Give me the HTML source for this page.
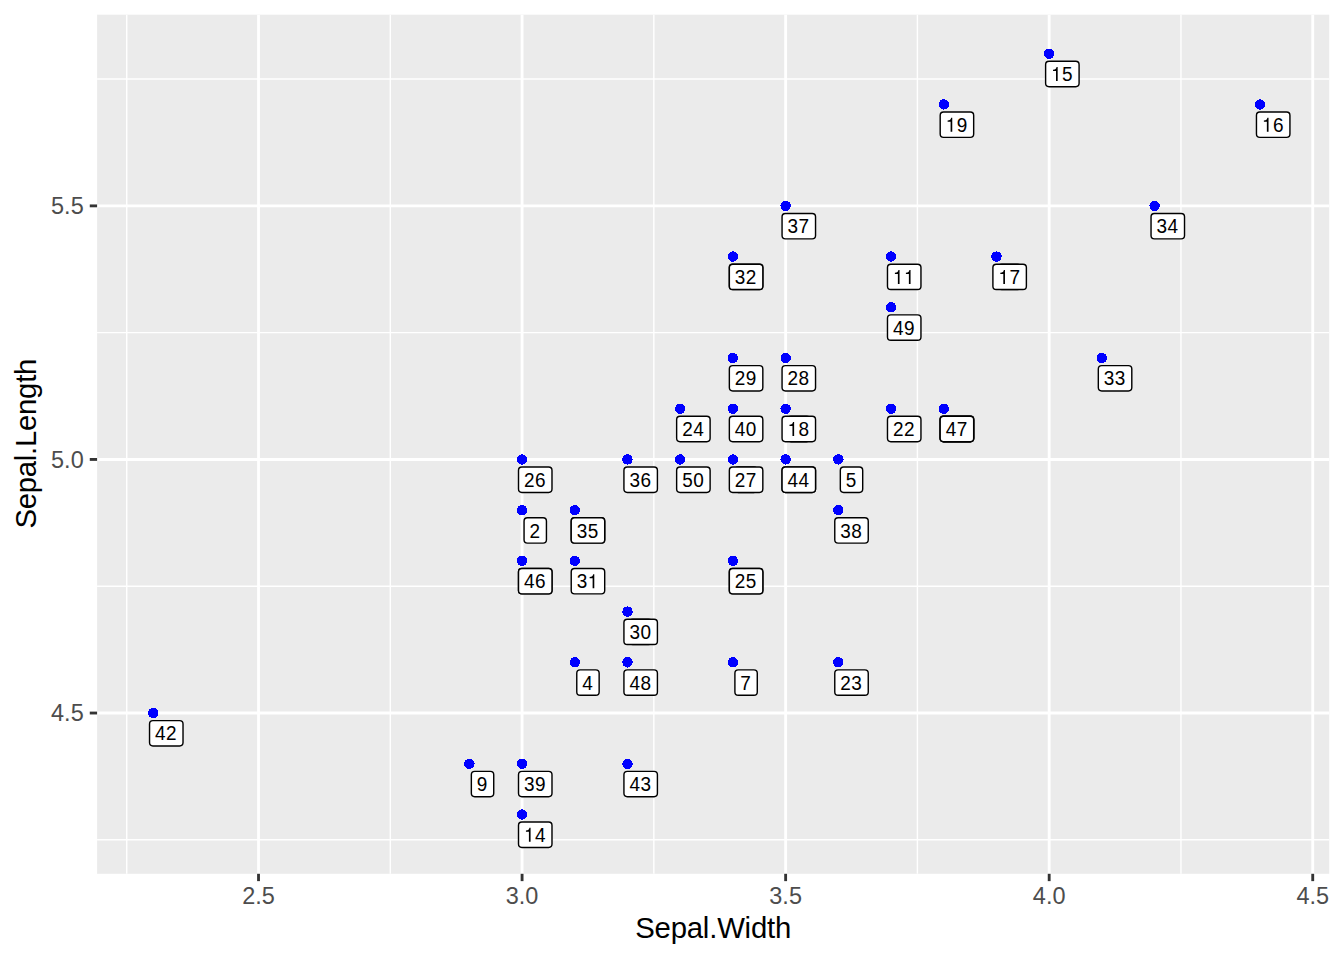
<!DOCTYPE html>
<html><head><meta charset="utf-8"><title>plot</title>
<style>html,body{margin:0;padding:0;background:#fff;overflow:hidden}svg{display:block}text{font-family:"Liberation Sans",sans-serif}</style></head><body>
<svg width="1344" height="960" viewBox="0 0 1344 960">
<rect x="0" y="0" width="1344" height="960" fill="#ffffff"/>
<rect x="97.10" y="14.67" width="1232.10" height="859.13" fill="#EBEBEB"/>
<g stroke="#ffffff" stroke-width="1.42" fill="none">
<line x1="97.10" x2="1329.20" y1="839.82" y2="839.82"/>
<line x1="97.10" x2="1329.20" y1="586.24" y2="586.24"/>
<line x1="97.10" x2="1329.20" y1="332.66" y2="332.66"/>
<line x1="97.10" x2="1329.20" y1="79.08" y2="79.08"/>
<line y1="14.67" y2="873.80" x1="126.75" x2="126.75"/>
<line y1="14.67" y2="873.80" x1="390.30" x2="390.30"/>
<line y1="14.67" y2="873.80" x1="653.85" x2="653.85"/>
<line y1="14.67" y2="873.80" x1="917.40" x2="917.40"/>
<line y1="14.67" y2="873.80" x1="1180.95" x2="1180.95"/>
</g>
<g stroke="#ffffff" stroke-width="2.85" fill="none">
<line x1="97.10" x2="1329.20" y1="713.03" y2="713.03"/>
<line x1="97.10" x2="1329.20" y1="459.45" y2="459.45"/>
<line x1="97.10" x2="1329.20" y1="205.87" y2="205.87"/>
<line y1="14.67" y2="873.80" x1="258.52" x2="258.52"/>
<line y1="14.67" y2="873.80" x1="522.08" x2="522.08"/>
<line y1="14.67" y2="873.80" x1="785.63" x2="785.63"/>
<line y1="14.67" y2="873.80" x1="1049.18" x2="1049.18"/>
<line y1="14.67" y2="873.80" x1="1312.73" x2="1312.73"/>
</g>
<g fill="#0000FF" shape-rendering="crispEdges">
<circle cx="785.63" cy="408.73" r="5.2"/>
<circle cx="522.08" cy="510.17" r="5.2"/>
<circle cx="627.50" cy="611.60" r="5.2"/>
<circle cx="574.79" cy="662.31" r="5.2"/>
<circle cx="838.34" cy="459.45" r="5.2"/>
<circle cx="996.47" cy="256.59" r="5.2"/>
<circle cx="732.92" cy="662.31" r="5.2"/>
<circle cx="732.92" cy="459.45" r="5.2"/>
<circle cx="469.37" cy="763.75" r="5.2"/>
<circle cx="574.79" cy="510.17" r="5.2"/>
<circle cx="891.05" cy="256.59" r="5.2"/>
<circle cx="732.92" cy="560.88" r="5.2"/>
<circle cx="522.08" cy="560.88" r="5.2"/>
<circle cx="522.08" cy="814.46" r="5.2"/>
<circle cx="1049.18" cy="53.72" r="5.2"/>
<circle cx="1260.02" cy="104.44" r="5.2"/>
<circle cx="996.47" cy="256.59" r="5.2"/>
<circle cx="785.63" cy="408.73" r="5.2"/>
<circle cx="943.76" cy="104.44" r="5.2"/>
<circle cx="943.76" cy="408.73" r="5.2"/>
<circle cx="732.92" cy="256.59" r="5.2"/>
<circle cx="891.05" cy="408.73" r="5.2"/>
<circle cx="838.34" cy="662.31" r="5.2"/>
<circle cx="680.21" cy="408.73" r="5.2"/>
<circle cx="732.92" cy="560.88" r="5.2"/>
<circle cx="522.08" cy="459.45" r="5.2"/>
<circle cx="732.92" cy="459.45" r="5.2"/>
<circle cx="785.63" cy="358.02" r="5.2"/>
<circle cx="732.92" cy="358.02" r="5.2"/>
<circle cx="627.50" cy="611.60" r="5.2"/>
<circle cx="574.79" cy="560.88" r="5.2"/>
<circle cx="732.92" cy="256.59" r="5.2"/>
<circle cx="1101.89" cy="358.02" r="5.2"/>
<circle cx="1154.60" cy="205.87" r="5.2"/>
<circle cx="574.79" cy="510.17" r="5.2"/>
<circle cx="627.50" cy="459.45" r="5.2"/>
<circle cx="785.63" cy="205.87" r="5.2"/>
<circle cx="838.34" cy="510.17" r="5.2"/>
<circle cx="522.08" cy="763.75" r="5.2"/>
<circle cx="732.92" cy="408.73" r="5.2"/>
<circle cx="785.63" cy="459.45" r="5.2"/>
<circle cx="153.10" cy="713.03" r="5.2"/>
<circle cx="627.50" cy="763.75" r="5.2"/>
<circle cx="785.63" cy="459.45" r="5.2"/>
<circle cx="943.76" cy="408.73" r="5.2"/>
<circle cx="522.08" cy="560.88" r="5.2"/>
<circle cx="943.76" cy="408.73" r="5.2"/>
<circle cx="627.50" cy="662.31" r="5.2"/>
<circle cx="891.05" cy="307.30" r="5.2"/>
<circle cx="680.21" cy="459.45" r="5.2"/>
</g>
<g font-size="18.97" fill="#000000">
<rect x="787.61" y="416.33" width="22.38" height="25.38" rx="3.4" ry="3.4" fill="#ffffff" stroke="#000000" stroke-width="1.42"/>
<path transform="translate(793.05,436.12) scale(0.01897,-0.01980)" d="M259 505L259 0L347 0L347 709L289 709C262 606 232 586 102 568L102 505Z"/>
<rect x="524.06" y="517.76" width="22.38" height="25.38" rx="3.4" ry="3.4" fill="#ffffff" stroke="#000000" stroke-width="1.42"/>
<text transform="translate(529.50,537.55) scale(1,1.044)">2</text>
<rect x="629.48" y="619.19" width="22.38" height="25.38" rx="3.4" ry="3.4" fill="#ffffff" stroke="#000000" stroke-width="1.42"/>
<text transform="translate(634.92,638.98) scale(1,1.044)">3</text>
<rect x="576.77" y="669.91" width="22.38" height="25.38" rx="3.4" ry="3.4" fill="#ffffff" stroke="#000000" stroke-width="1.42"/>
<text transform="translate(582.21,689.70) scale(1,1.044)">4</text>
<rect x="840.32" y="467.05" width="22.38" height="25.38" rx="3.4" ry="3.4" fill="#ffffff" stroke="#000000" stroke-width="1.42"/>
<text transform="translate(845.76,486.84) scale(1,1.044)">5</text>
<rect x="998.45" y="264.18" width="22.38" height="25.38" rx="3.4" ry="3.4" fill="#ffffff" stroke="#000000" stroke-width="1.42"/>
<text transform="translate(1003.89,283.97) scale(1,1.044)">6</text>
<rect x="734.90" y="669.91" width="22.38" height="25.38" rx="3.4" ry="3.4" fill="#ffffff" stroke="#000000" stroke-width="1.42"/>
<text transform="translate(740.34,689.70) scale(1,1.044)">7</text>
<rect x="734.90" y="467.05" width="22.38" height="25.38" rx="3.4" ry="3.4" fill="#ffffff" stroke="#000000" stroke-width="1.42"/>
<text transform="translate(740.34,486.84) scale(1,1.044)">8</text>
<rect x="471.35" y="771.34" width="22.38" height="25.38" rx="3.4" ry="3.4" fill="#ffffff" stroke="#000000" stroke-width="1.42"/>
<text transform="translate(476.79,791.13) scale(1,1.044)">9</text>
<rect x="571.22" y="517.76" width="33.48" height="25.38" rx="3.4" ry="3.4" fill="#ffffff" stroke="#000000" stroke-width="1.42"/>
<path transform="translate(576.71,537.55) scale(0.01897,-0.01980)" d="M259 505L259 0L347 0L347 709L289 709C262 606 232 586 102 568L102 505Z"/>
<text transform="translate(587.71,537.55) scale(1,1.044)">0</text>
<rect x="887.48" y="264.18" width="33.48" height="25.38" rx="3.4" ry="3.4" fill="#ffffff" stroke="#000000" stroke-width="1.42"/>
<path transform="translate(892.97,283.97) scale(0.01897,-0.01980)" d="M259 505L259 0L347 0L347 709L289 709C262 606 232 586 102 568L102 505Z"/>
<path transform="translate(903.97,283.97) scale(0.01897,-0.01980)" d="M259 505L259 0L347 0L347 709L289 709C262 606 232 586 102 568L102 505Z"/>
<rect x="729.35" y="568.48" width="33.48" height="25.38" rx="3.4" ry="3.4" fill="#ffffff" stroke="#000000" stroke-width="1.42"/>
<path transform="translate(734.84,588.27) scale(0.01897,-0.01980)" d="M259 505L259 0L347 0L347 709L289 709C262 606 232 586 102 568L102 505Z"/>
<text transform="translate(745.84,588.27) scale(1,1.044)">2</text>
<rect x="518.51" y="568.48" width="33.48" height="25.38" rx="3.4" ry="3.4" fill="#ffffff" stroke="#000000" stroke-width="1.42"/>
<path transform="translate(524.00,588.27) scale(0.01897,-0.01980)" d="M259 505L259 0L347 0L347 709L289 709C262 606 232 586 102 568L102 505Z"/>
<text transform="translate(535.00,588.27) scale(1,1.044)">3</text>
<rect x="518.51" y="822.06" width="33.48" height="25.38" rx="3.4" ry="3.4" fill="#ffffff" stroke="#000000" stroke-width="1.42"/>
<path transform="translate(524.00,841.85) scale(0.01897,-0.01980)" d="M259 505L259 0L347 0L347 709L289 709C262 606 232 586 102 568L102 505Z"/>
<text transform="translate(535.00,841.85) scale(1,1.044)">4</text>
<rect x="1045.61" y="61.32" width="33.48" height="25.38" rx="3.4" ry="3.4" fill="#ffffff" stroke="#000000" stroke-width="1.42"/>
<path transform="translate(1051.10,81.11) scale(0.01897,-0.01980)" d="M259 505L259 0L347 0L347 709L289 709C262 606 232 586 102 568L102 505Z"/>
<text transform="translate(1062.10,81.11) scale(1,1.044)">5</text>
<rect x="1256.46" y="112.03" width="33.48" height="25.38" rx="3.4" ry="3.4" fill="#ffffff" stroke="#000000" stroke-width="1.42"/>
<path transform="translate(1261.95,131.82) scale(0.01897,-0.01980)" d="M259 505L259 0L347 0L347 709L289 709C262 606 232 586 102 568L102 505Z"/>
<text transform="translate(1272.95,131.82) scale(1,1.044)">6</text>
<rect x="992.90" y="264.18" width="33.48" height="25.38" rx="3.4" ry="3.4" fill="#ffffff" stroke="#000000" stroke-width="1.42"/>
<path transform="translate(998.39,283.97) scale(0.01897,-0.01980)" d="M259 505L259 0L347 0L347 709L289 709C262 606 232 586 102 568L102 505Z"/>
<text transform="translate(1009.39,283.97) scale(1,1.044)">7</text>
<rect x="782.06" y="416.33" width="33.48" height="25.38" rx="3.4" ry="3.4" fill="#ffffff" stroke="#000000" stroke-width="1.42"/>
<path transform="translate(787.55,436.12) scale(0.01897,-0.01980)" d="M259 505L259 0L347 0L347 709L289 709C262 606 232 586 102 568L102 505Z"/>
<text transform="translate(798.55,436.12) scale(1,1.044)">8</text>
<rect x="940.19" y="112.03" width="33.48" height="25.38" rx="3.4" ry="3.4" fill="#ffffff" stroke="#000000" stroke-width="1.42"/>
<path transform="translate(945.68,131.82) scale(0.01897,-0.01980)" d="M259 505L259 0L347 0L347 709L289 709C262 606 232 586 102 568L102 505Z"/>
<text transform="translate(956.68,131.82) scale(1,1.044)">9</text>
<rect x="940.19" y="416.33" width="33.48" height="25.38" rx="3.4" ry="3.4" fill="#ffffff" stroke="#000000" stroke-width="1.42"/>
<text transform="translate(945.68,436.12) scale(1,1.044)">2</text>
<text transform="translate(956.68,436.12) scale(1,1.044)">0</text>
<rect x="729.35" y="264.18" width="33.48" height="25.38" rx="3.4" ry="3.4" fill="#ffffff" stroke="#000000" stroke-width="1.42"/>
<text transform="translate(734.84,283.97) scale(1,1.044)">2</text>
<path transform="translate(745.84,283.97) scale(0.01897,-0.01980)" d="M259 505L259 0L347 0L347 709L289 709C262 606 232 586 102 568L102 505Z"/>
<rect x="887.48" y="416.33" width="33.48" height="25.38" rx="3.4" ry="3.4" fill="#ffffff" stroke="#000000" stroke-width="1.42"/>
<text transform="translate(892.97,436.12) scale(1,1.044)">2</text>
<text transform="translate(903.97,436.12) scale(1,1.044)">2</text>
<rect x="834.77" y="669.91" width="33.48" height="25.38" rx="3.4" ry="3.4" fill="#ffffff" stroke="#000000" stroke-width="1.42"/>
<text transform="translate(840.26,689.70) scale(1,1.044)">2</text>
<text transform="translate(851.26,689.70) scale(1,1.044)">3</text>
<rect x="676.64" y="416.33" width="33.48" height="25.38" rx="3.4" ry="3.4" fill="#ffffff" stroke="#000000" stroke-width="1.42"/>
<text transform="translate(682.13,436.12) scale(1,1.044)">2</text>
<text transform="translate(693.13,436.12) scale(1,1.044)">4</text>
<rect x="729.35" y="568.48" width="33.48" height="25.38" rx="3.4" ry="3.4" fill="#ffffff" stroke="#000000" stroke-width="1.42"/>
<text transform="translate(734.84,588.27) scale(1,1.044)">2</text>
<text transform="translate(745.84,588.27) scale(1,1.044)">5</text>
<rect x="518.51" y="467.05" width="33.48" height="25.38" rx="3.4" ry="3.4" fill="#ffffff" stroke="#000000" stroke-width="1.42"/>
<text transform="translate(524.00,486.84) scale(1,1.044)">2</text>
<text transform="translate(535.00,486.84) scale(1,1.044)">6</text>
<rect x="729.35" y="467.05" width="33.48" height="25.38" rx="3.4" ry="3.4" fill="#ffffff" stroke="#000000" stroke-width="1.42"/>
<text transform="translate(734.84,486.84) scale(1,1.044)">2</text>
<text transform="translate(745.84,486.84) scale(1,1.044)">7</text>
<rect x="782.06" y="365.61" width="33.48" height="25.38" rx="3.4" ry="3.4" fill="#ffffff" stroke="#000000" stroke-width="1.42"/>
<text transform="translate(787.55,385.40) scale(1,1.044)">2</text>
<text transform="translate(798.55,385.40) scale(1,1.044)">8</text>
<rect x="729.35" y="365.61" width="33.48" height="25.38" rx="3.4" ry="3.4" fill="#ffffff" stroke="#000000" stroke-width="1.42"/>
<text transform="translate(734.84,385.40) scale(1,1.044)">2</text>
<text transform="translate(745.84,385.40) scale(1,1.044)">9</text>
<rect x="623.93" y="619.19" width="33.48" height="25.38" rx="3.4" ry="3.4" fill="#ffffff" stroke="#000000" stroke-width="1.42"/>
<text transform="translate(629.42,638.98) scale(1,1.044)">3</text>
<text transform="translate(640.42,638.98) scale(1,1.044)">0</text>
<rect x="571.22" y="568.48" width="33.48" height="25.38" rx="3.4" ry="3.4" fill="#ffffff" stroke="#000000" stroke-width="1.42"/>
<text transform="translate(576.71,588.27) scale(1,1.044)">3</text>
<path transform="translate(587.71,588.27) scale(0.01897,-0.01980)" d="M259 505L259 0L347 0L347 709L289 709C262 606 232 586 102 568L102 505Z"/>
<rect x="729.35" y="264.18" width="33.48" height="25.38" rx="3.4" ry="3.4" fill="#ffffff" stroke="#000000" stroke-width="1.42"/>
<text transform="translate(734.84,283.97) scale(1,1.044)">3</text>
<text transform="translate(745.84,283.97) scale(1,1.044)">2</text>
<rect x="1098.32" y="365.61" width="33.48" height="25.38" rx="3.4" ry="3.4" fill="#ffffff" stroke="#000000" stroke-width="1.42"/>
<text transform="translate(1103.81,385.40) scale(1,1.044)">3</text>
<text transform="translate(1114.81,385.40) scale(1,1.044)">3</text>
<rect x="1151.04" y="213.47" width="33.48" height="25.38" rx="3.4" ry="3.4" fill="#ffffff" stroke="#000000" stroke-width="1.42"/>
<text transform="translate(1156.53,233.26) scale(1,1.044)">3</text>
<text transform="translate(1167.53,233.26) scale(1,1.044)">4</text>
<rect x="571.22" y="517.76" width="33.48" height="25.38" rx="3.4" ry="3.4" fill="#ffffff" stroke="#000000" stroke-width="1.42"/>
<text transform="translate(576.71,537.55) scale(1,1.044)">3</text>
<text transform="translate(587.71,537.55) scale(1,1.044)">5</text>
<rect x="623.93" y="467.05" width="33.48" height="25.38" rx="3.4" ry="3.4" fill="#ffffff" stroke="#000000" stroke-width="1.42"/>
<text transform="translate(629.42,486.84) scale(1,1.044)">3</text>
<text transform="translate(640.42,486.84) scale(1,1.044)">6</text>
<rect x="782.06" y="213.47" width="33.48" height="25.38" rx="3.4" ry="3.4" fill="#ffffff" stroke="#000000" stroke-width="1.42"/>
<text transform="translate(787.55,233.26) scale(1,1.044)">3</text>
<text transform="translate(798.55,233.26) scale(1,1.044)">7</text>
<rect x="834.77" y="517.76" width="33.48" height="25.38" rx="3.4" ry="3.4" fill="#ffffff" stroke="#000000" stroke-width="1.42"/>
<text transform="translate(840.26,537.55) scale(1,1.044)">3</text>
<text transform="translate(851.26,537.55) scale(1,1.044)">8</text>
<rect x="518.51" y="771.34" width="33.48" height="25.38" rx="3.4" ry="3.4" fill="#ffffff" stroke="#000000" stroke-width="1.42"/>
<text transform="translate(524.00,791.13) scale(1,1.044)">3</text>
<text transform="translate(535.00,791.13) scale(1,1.044)">9</text>
<rect x="729.35" y="416.33" width="33.48" height="25.38" rx="3.4" ry="3.4" fill="#ffffff" stroke="#000000" stroke-width="1.42"/>
<text transform="translate(734.84,436.12) scale(1,1.044)">4</text>
<text transform="translate(745.84,436.12) scale(1,1.044)">0</text>
<rect x="782.06" y="467.05" width="33.48" height="25.38" rx="3.4" ry="3.4" fill="#ffffff" stroke="#000000" stroke-width="1.42"/>
<text transform="translate(787.55,486.84) scale(1,1.044)">4</text>
<path transform="translate(798.55,486.84) scale(0.01897,-0.01980)" d="M259 505L259 0L347 0L347 709L289 709C262 606 232 586 102 568L102 505Z"/>
<rect x="149.54" y="720.63" width="33.48" height="25.38" rx="3.4" ry="3.4" fill="#ffffff" stroke="#000000" stroke-width="1.42"/>
<text transform="translate(155.03,740.42) scale(1,1.044)">4</text>
<text transform="translate(166.03,740.42) scale(1,1.044)">2</text>
<rect x="623.93" y="771.34" width="33.48" height="25.38" rx="3.4" ry="3.4" fill="#ffffff" stroke="#000000" stroke-width="1.42"/>
<text transform="translate(629.42,791.13) scale(1,1.044)">4</text>
<text transform="translate(640.42,791.13) scale(1,1.044)">3</text>
<rect x="782.06" y="467.05" width="33.48" height="25.38" rx="3.4" ry="3.4" fill="#ffffff" stroke="#000000" stroke-width="1.42"/>
<text transform="translate(787.55,486.84) scale(1,1.044)">4</text>
<text transform="translate(798.55,486.84) scale(1,1.044)">4</text>
<rect x="940.19" y="416.33" width="33.48" height="25.38" rx="3.4" ry="3.4" fill="#ffffff" stroke="#000000" stroke-width="1.42"/>
<text transform="translate(945.68,436.12) scale(1,1.044)">4</text>
<text transform="translate(956.68,436.12) scale(1,1.044)">5</text>
<rect x="518.51" y="568.48" width="33.48" height="25.38" rx="3.4" ry="3.4" fill="#ffffff" stroke="#000000" stroke-width="1.42"/>
<text transform="translate(524.00,588.27) scale(1,1.044)">4</text>
<text transform="translate(535.00,588.27) scale(1,1.044)">6</text>
<rect x="940.19" y="416.33" width="33.48" height="25.38" rx="3.4" ry="3.4" fill="#ffffff" stroke="#000000" stroke-width="1.42"/>
<text transform="translate(945.68,436.12) scale(1,1.044)">4</text>
<text transform="translate(956.68,436.12) scale(1,1.044)">7</text>
<rect x="623.93" y="669.91" width="33.48" height="25.38" rx="3.4" ry="3.4" fill="#ffffff" stroke="#000000" stroke-width="1.42"/>
<text transform="translate(629.42,689.70) scale(1,1.044)">4</text>
<text transform="translate(640.42,689.70) scale(1,1.044)">8</text>
<rect x="887.48" y="314.90" width="33.48" height="25.38" rx="3.4" ry="3.4" fill="#ffffff" stroke="#000000" stroke-width="1.42"/>
<text transform="translate(892.97,334.69) scale(1,1.044)">4</text>
<text transform="translate(903.97,334.69) scale(1,1.044)">9</text>
<rect x="676.64" y="467.05" width="33.48" height="25.38" rx="3.4" ry="3.4" fill="#ffffff" stroke="#000000" stroke-width="1.42"/>
<text transform="translate(682.13,486.84) scale(1,1.044)">5</text>
<text transform="translate(693.13,486.84) scale(1,1.044)">0</text>
</g>
<g stroke="#333333" stroke-width="2.85" fill="none">
<line x1="89.77" x2="97.10" y1="713.03" y2="713.03"/>
<line x1="89.77" x2="97.10" y1="459.45" y2="459.45"/>
<line x1="89.77" x2="97.10" y1="205.87" y2="205.87"/>
<line y1="873.80" y2="881.13" x1="258.52" x2="258.52"/>
<line y1="873.80" y2="881.13" x1="522.08" x2="522.08"/>
<line y1="873.80" y2="881.13" x1="785.63" x2="785.63"/>
<line y1="873.80" y2="881.13" x1="1049.18" x2="1049.18"/>
<line y1="873.80" y2="881.13" x1="1312.73" x2="1312.73"/>
</g>
<g font-size="23.47" fill="#4D4D4D">
<text text-anchor="end" x="83.70" y="721.43">4.5</text>
<text text-anchor="end" x="83.70" y="467.85">5.0</text>
<text text-anchor="end" x="83.70" y="214.27">5.5</text>
<text text-anchor="middle" x="258.52" y="903.90">2.5</text>
<text text-anchor="middle" x="522.08" y="903.90">3.0</text>
<text text-anchor="middle" x="785.63" y="903.90">3.5</text>
<text text-anchor="middle" x="1049.18" y="903.90">4.0</text>
<text text-anchor="middle" x="1312.73" y="903.90">4.5</text>
</g>
<text font-size="29.33" fill="#000000" text-anchor="middle" letter-spacing="-0.2" x="713.15" y="937.60">Sepal.Width</text>
<text font-size="29.33" fill="#000000" text-anchor="middle" letter-spacing="-0.27" transform="translate(36.10,443.73) rotate(-90)">Sepal.Length</text>
</svg></body></html>
